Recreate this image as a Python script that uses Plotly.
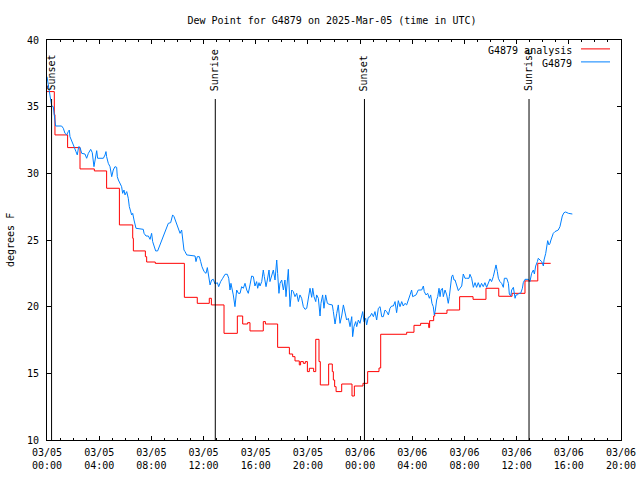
import pandas as pd
import plotly.graph_objects as go

START = pd.Timestamp("2025-03-05 00:00")

# Observations (hours since 2025-03-05 00:00 UTC, dew point in F)
obs_hours = [0.0, 0.18, 0.28, 0.36, 0.48, 0.56, 0.66, 1.12, 1.25, 1.38, 1.51, 1.63, 1.71, 1.76, 1.89,
             2.02, 2.22, 2.32, 2.43, 2.53, 2.66, 2.91, 3.04, 3.17, 3.35, 3.47, 3.6, 3.68, 3.81, 3.88,
             4.32, 4.45, 4.52, 4.57, 4.7, 4.83, 4.96, 5.08, 5.21, 5.34, 5.39, 5.47, 5.6, 5.72,
             5.8, 5.9, 5.98, 6.11, 6.23, 6.31, 6.49, 6.57, 6.67, 6.82, 7.38, 7.44, 7.59, 7.77, 7.9,
             8.02, 8.1, 8.2, 8.33, 8.48, 8.61, 8.79, 8.97, 9.17, 9.3, 9.48, 9.63, 9.74, 9.86, 9.94,
             10.07, 10.2, 10.32, 10.4, 10.5, 10.58, 10.71, 11.35, 11.42, 11.52, 11.68, 11.78, 11.88,
             12.04, 12.19, 12.29, 12.37, 12.5, 12.62, 12.75, 12.88, 13.06, 13.16, 13.31, 13.47, 13.65,
             13.82, 13.93, 14.03, 14.1, 14.28, 14.41, 14.54, 14.67, 14.8, 14.92, 15.05, 15.18, 15.31,
             15.43, 15.56, 15.69, 15.82, 15.94, 16.07, 16.15, 16.25, 16.33, 16.46, 16.58, 16.66, 16.79,
             16.89, 17.02, 17.09, 17.22, 17.35, 17.48, 17.61, 17.68, 17.78, 17.86, 17.99, 18.12, 18.24,
             18.32, 18.42, 18.5, 18.63, 18.76, 18.88, 19.01, 19.14, 19.27, 19.39, 19.52, 19.65, 19.78,
             19.91, 20.03, 20.16, 20.29, 20.37, 20.47, 20.6, 20.67, 20.8, 20.93, 21.0, 21.13, 21.23,
             21.36, 21.49, 21.62, 21.75, 21.87, 21.95, 22.08, 22.21, 22.33, 22.46, 22.59, 22.72, 22.84,
             22.97, 23.1, 23.23, 23.36, 23.43, 23.53, 23.66, 23.74, 23.87, 23.99, 24.12, 24.2, 24.3,
             24.43, 24.5, 24.63, 24.76, 24.89, 25.02, 25.14, 25.27, 25.4, 25.53, 25.66, 25.78, 25.91,
             26.04, 26.17, 26.29, 26.42, 26.55, 26.68, 26.8, 26.93, 27.06, 27.19, 27.31, 27.44, 27.57,
             27.7, 27.83, 27.95, 28.03, 28.13, 28.29, 28.46, 28.72, 28.85, 28.92, 29.05, 29.18, 29.31,
             29.41, 29.51, 29.61, 29.69, 29.77, 29.87, 29.95, 30.05, 30.13, 30.2, 30.31, 30.38, 30.51,
             30.64, 30.76, 30.84, 30.94, 31.02, 31.1, 31.2, 31.28, 31.41, 31.53, 31.66, 31.79, 31.91,
             32.04, 32.17, 32.35, 32.42, 32.55, 32.68, 32.81, 32.93, 33.06, 33.19, 33.31, 33.44, 33.57,
             33.7, 33.83, 33.96, 34.08, 34.21, 34.34, 34.42, 34.52, 34.6, 34.72, 34.85, 34.98, 35.06,
             35.24, 35.37, 35.44, 35.55, 35.62, 35.75, 35.88, 35.95, 36.06, 36.18, 36.31, 36.44, 36.51,
             36.64, 36.9, 37.02, 37.15, 37.28, 37.36, 37.46, 37.59, 37.66, 37.79, 37.92, 38.05, 38.1,
             38.23, 38.3, 38.38, 38.48, 38.56, 38.63, 38.74, 38.81, 38.94, 39.07, 39.19, 39.32, 39.4,
             39.5, 39.63, 39.76, 39.97, 40.15, 40.27]
obs_values = [37.25, 36.13, 35.5, 35.05, 35.0, 34.38, 33.55, 33.55, 33.38, 33.0, 32.88, 33.13, 33.25, 32.75, 32.5,
              32.13, 31.63, 31.38, 32.0, 31.95, 31.5, 31.45, 31.13, 31.5, 31.8, 31.55, 30.5, 30.88, 31.7, 31.13,
              31.13, 31.38, 31.63, 31.25, 30.75, 30.5, 29.75, 30.25, 30.5, 30.45, 29.75, 29.5, 29.2, 29.0,
              28.5, 28.75, 28.38, 28.63, 28.13, 27.5, 26.88, 27.0, 26.5, 25.88, 25.8, 25.5, 25.3, 25.3, 25.05,
              25.5, 24.88, 24.5, 24.18, 24.18, 24.5, 25.0, 25.5, 26.0, 26.25, 26.3, 26.88, 26.75, 26.38, 26.25,
              25.75, 25.5, 25.75, 25.13, 24.25, 24.13, 23.88, 23.8, 23.38, 23.75, 23.75, 23.38, 23.0,
              22.63, 22.5, 22.93, 22.5, 21.63, 22.0, 22.05, 21.7, 21.8, 21.5, 21.88, 22.13, 22.43,
              22.43, 22.13, 21.25, 21.75, 20.88, 20.0, 21.25, 21.0, 21.0, 21.5, 21.38, 21.75, 21.25,
              21.0, 21.63, 22.3, 22.25, 21.55, 21.88, 21.38, 21.8, 21.55, 21.88, 22.75, 22.25, 21.5,
              22.0, 22.75, 21.88, 22.25, 22.75, 22.0, 23.5, 22.5, 21.0, 21.75, 22.0, 21.25, 22.0,
              20.75, 22.0, 22.8, 20.0, 21.25, 21.13, 20.75, 21.0, 20.38, 20.88, 20.63, 20.0, 19.8,
              19.88, 20.5, 21.38, 20.7, 21.38, 20.75, 20.38, 20.88, 20.63, 19.3, 20.25, 20.88, 19.88,
              20.88, 20.25, 20.18, 20.18, 20.13, 19.63, 18.7, 19.5, 20.13, 18.75, 19.3, 20.13, 19.5,
              19.0, 19.13, 18.5, 19.25, 17.75, 18.5, 18.88, 18.5, 19.0, 18.75, 19.3, 19.63, 18.88,
              19.13, 18.63, 19.2, 19.25, 19.5, 19.25, 19.63, 19.0, 19.88, 20.0, 19.25, 19.25, 19.75,
              19.63, 19.38, 19.88, 20.05, 20.05, 20.38, 19.55, 20.45, 20.0, 20.38, 20.05, 20.25, 20.13,
              20.45, 20.88, 21.25, 20.75, 20.8, 20.88, 21.25, 21.25, 21.55, 21.13, 20.88, 21.0, 20.63,
              20.88, 20.25, 20.0, 19.38, 19.75, 20.5, 20.75, 21.38, 20.75, 21.25, 21.38, 20.75, 21.25,
              20.88, 20.25, 20.75, 21.5, 22.25, 22.38, 22.0, 22.0, 21.5, 21.2, 21.38, 21.55, 22.45,
              22.13, 22.13, 22.13, 22.43, 22.13, 21.45, 21.8, 21.45, 21.8, 21.45, 21.75, 21.5, 21.8,
              21.45, 21.75, 22.08, 21.88, 22.25, 22.8, 23.13, 22.63, 22.13, 21.88, 21.75, 21.45, 22.13,
              22.13, 21.75, 20.95, 20.8, 21.25, 21.45, 20.63, 20.88, 20.88, 21.0, 21.0, 21.38, 21.8,
              22.05, 22.05, 21.88, 22.5, 22.75, 22.45, 23.05, 23.38, 23.63, 23.5, 23.38, 23.05, 23.5,
              24.0, 24.5, 24.95, 24.63, 24.75, 25.0, 25.25, 25.5, 25.63, 25.7, 25.75, 26.0, 26.5,
              26.8, 27.05, 27.1, 27.0, 27.0, 26.95]

# Analysis (step series): value holds from each time until the next
ana_hours = [0.0, 0.56, 0.61, 1.58, 2.53, 3.63, 4.57, 5.55, 6.57, 6.62, 7.54, 7.64, 8.3, 10.53, 11.52,
             12.44, 12.6, 13.57, 14.59, 15.0, 15.38, 15.56, 16.58, 16.74, 17.68, 18.58, 18.83, 19.01,
             19.34, 19.44, 19.65, 19.8, 19.96, 20.11, 20.44, 20.6, 20.85, 20.95, 21.59, 21.87, 21.95,
             22.05, 22.16, 22.59, 23.38, 23.56, 24.22, 24.58, 25.45, 25.58, 27.57, 28.13, 28.64, 29.26,
             29.33, 29.64, 29.72, 30.66, 31.63, 32.66, 33.65, 34.63, 35.65, 36.64, 37.62, 38.61]
ana_values = [36.13, 34.4, 32.88, 31.93, 30.33, 30.18, 28.88, 26.13, 25.13, 24.18, 23.75, 23.35, 23.25, 20.7, 20.25,
              20.63, 20.13, 18.0, 19.3, 18.7, 18.8, 18.18, 18.88, 18.7, 16.95, 16.45, 16.25, 15.93,
              15.63, 15.88, 15.75, 15.88, 15.13, 15.38, 15.13, 17.55, 15.88, 14.13, 15.7, 15.13, 14.5,
              14.0, 13.63, 14.2, 13.3, 14.05, 14.25, 15.13, 15.4, 17.93, 18.08, 18.6, 18.75, 18.43,
              18.95, 19.3, 19.5, 19.75, 20.75, 20.55, 21.38, 20.78, 21.0, 21.93, 23.25, 23.25]

event_times = ["2025-03-05 00:21", "2025-03-05 12:54", "2025-03-06 00:20", "2025-03-06 12:57"]
event_labels = ["Sunset", "Sunrise", "Sunset", "Sunrise"]

series_names = ["G4879 analysis", "G4879"]
series_colors = ["#ff0000", "#0080ff"]

obs_t = START + pd.to_timedelta(obs_hours, unit="h")
ana_t = START + pd.to_timedelta(ana_hours, unit="h")

FONT = "DejaVu Sans Mono"

fig = go.Figure()
fig.add_trace(go.Scatter(x=ana_t, y=ana_values, mode="lines", line=dict(color=series_colors[0], width=1, shape="hv"),
                         name=series_names[0], showlegend=False))
fig.add_trace(go.Scatter(x=obs_t, y=obs_values, mode="lines", line=dict(color=series_colors[1], width=1),
                         name=series_names[1], showlegend=False))

for t, lab in zip(event_times, event_labels):
    fig.add_shape(type="line", xref="x", yref="paper", x0=t, x1=t, y0=0, y1=0.8525,
                  line=dict(color="black", width=1))
    fig.add_annotation(x=t, xref="x", yref="paper", y=(440 - 93) / 400, text=lab, textangle=-90,
                       showarrow=False, xanchor="center", yanchor="bottom",
                       font=dict(family=FONT, size=10, color="black"))

# legend (gnuplot style: text then line sample)
leg_y = [(440 - 50.5) / 400, (440 - 63.5) / 400]
for name, col, yy in zip(series_names, series_colors, leg_y):
    fig.add_annotation(x=(574 - 47) / 574, y=yy, xref="paper", yref="paper", text=name, showarrow=False,
                       xanchor="right", yanchor="middle", font=dict(family=FONT, size=10, color="black"))
    fig.add_shape(type="line", xref="paper", yref="paper", x0=(581 - 47) / 574, x1=(610 - 47) / 574,
                  y0=yy + 0.004, y1=yy + 0.004, line=dict(color=col, width=1))

fig.add_annotation(x=(10 - 47) / 574, y=0.5, xref="paper", yref="paper", text="degrees F", textangle=-90,
                   showarrow=False, xanchor="center", yanchor="middle",
                   font=dict(family=FONT, size=10, color="black"))

fig.update_layout(
    width=640, height=480,
    margin=dict(l=47, r=19, t=40, b=40),
    paper_bgcolor="white", plot_bgcolor="white",
    font=dict(family=FONT, size=10, color="black"),
    title=dict(text="Dew Point for G4879 on 2025-Mar-05 (time in UTC)", x=332 / 640, xanchor="center",
               y=1 - 20 / 480, yanchor="middle", yref="container", font=dict(family=FONT, size=10, color="black")),
    showlegend=False,
)
fig.update_xaxes(
    type="date", range=["2025-03-05 00:00", "2025-03-06 20:00"],
    tick0="2025-03-05 00:00", dtick=4 * 3600000, tickformat="%m/%d<br>%H:%M",
    ticks="inside", ticklen=4, tickcolor="black", showline=True, linecolor="black", linewidth=1,
    mirror="allticks", showgrid=False, zeroline=False, automargin=False, ticklabelstandoff=3,
    minor=dict(ticks="inside", ticklen=2, dtick=3600000, tickcolor="black", showgrid=False),
    tickfont=dict(family=FONT, size=10, color="black"),
)
fig.update_yaxes(
    range=[10, 40], tick0=10, dtick=5,
    ticks="inside", ticklen=4, tickcolor="black", showline=True, linecolor="black", linewidth=1,
    mirror="allticks", showgrid=False, zeroline=False, automargin=False, ticklabelstandoff=5,
    tickfont=dict(family=FONT, size=10, color="black"),
)

fig.write_html("out.html")
